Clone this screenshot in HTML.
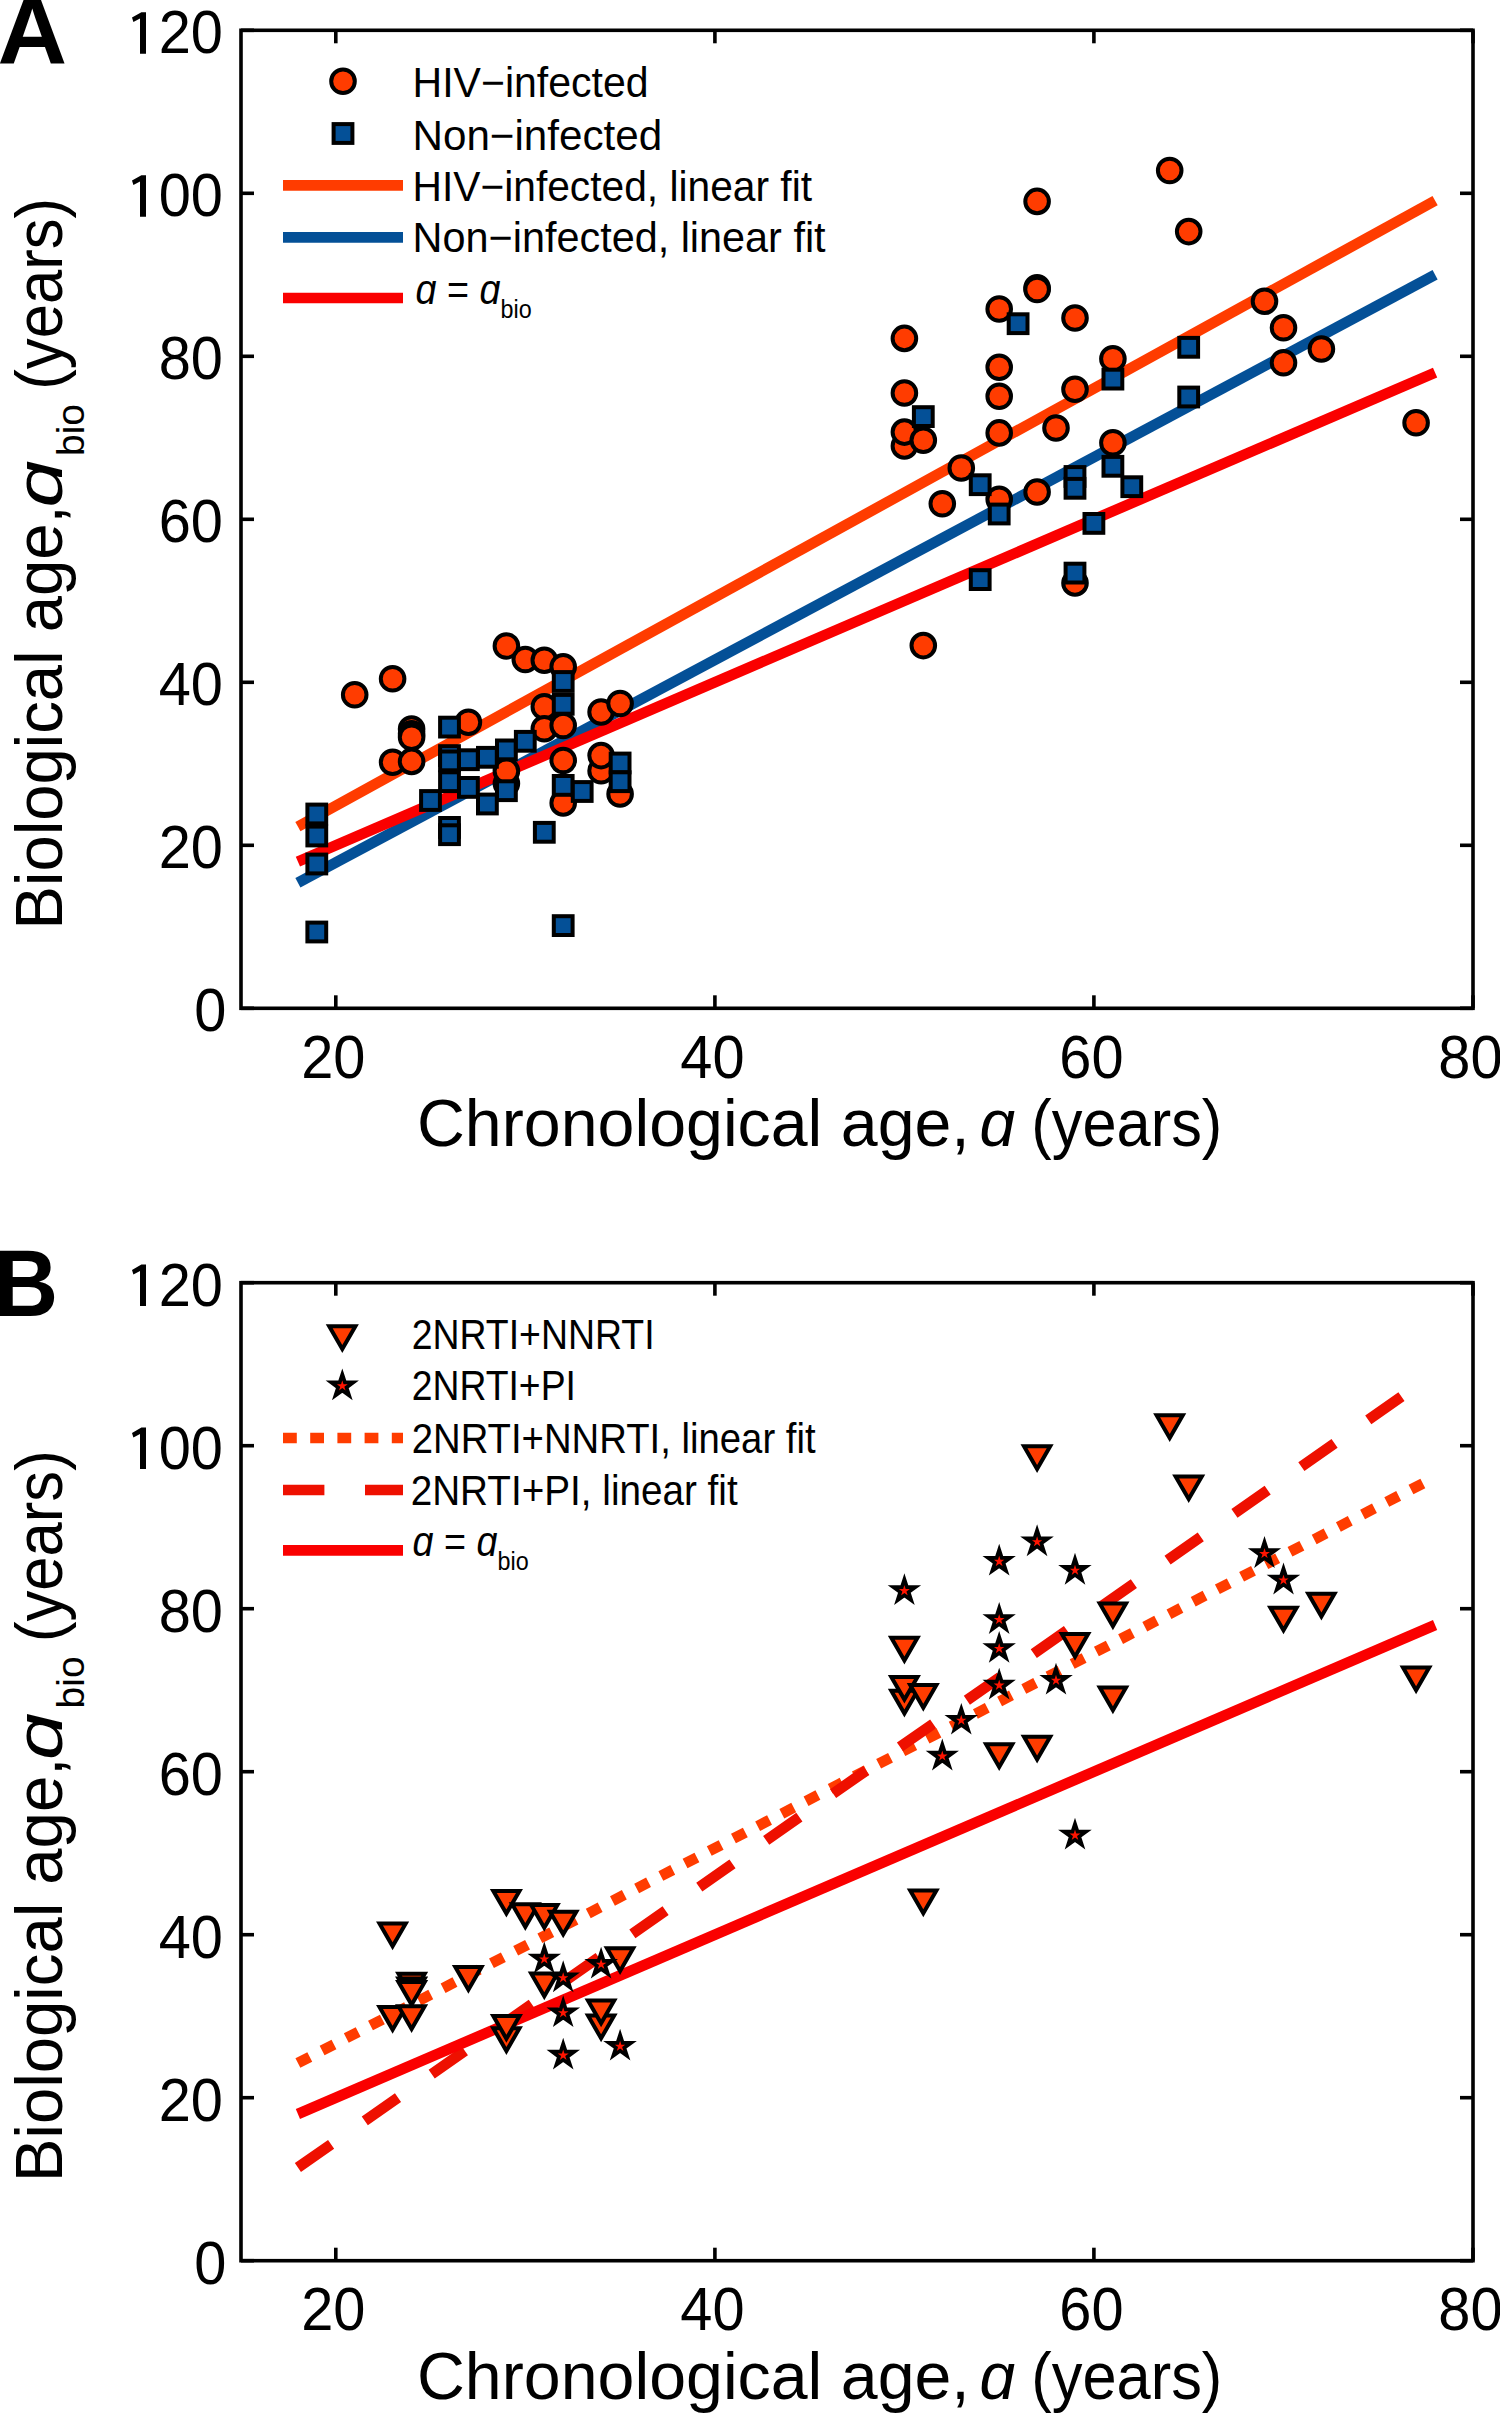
<!DOCTYPE html>
<html><head><meta charset="utf-8"><title>Biological age figure</title>
<style>html,body{margin:0;padding:0;background:#fff;width:1500px;height:2416px;overflow:hidden}svg{display:block}</style>
</head><body>
<svg width="1500" height="2416" viewBox="0 0 1500 2416"><rect x="0" y="0" width="1500" height="2416" fill="#fff"/>
<g font-family='"Liberation Sans", sans-serif' fill="#000">
<rect x="241" y="30.3" width="1232" height="978.0" fill="none" stroke="#000" stroke-width="3.6"/>
<line x1="335.8" y1="1008.3" x2="335.8" y2="995.3" stroke="#000" stroke-width="3.6"/>
<line x1="335.8" y1="30.3" x2="335.8" y2="43.3" stroke="#000" stroke-width="3.6"/>
<line x1="714.9" y1="1008.3" x2="714.9" y2="995.3" stroke="#000" stroke-width="3.6"/>
<line x1="714.9" y1="30.3" x2="714.9" y2="43.3" stroke="#000" stroke-width="3.6"/>
<line x1="1093.9" y1="1008.3" x2="1093.9" y2="995.3" stroke="#000" stroke-width="3.6"/>
<line x1="1093.9" y1="30.3" x2="1093.9" y2="43.3" stroke="#000" stroke-width="3.6"/>
<line x1="1473.0" y1="1008.3" x2="1473.0" y2="995.3" stroke="#000" stroke-width="3.6"/>
<line x1="1473.0" y1="30.3" x2="1473.0" y2="43.3" stroke="#000" stroke-width="3.6"/>
<line x1="241" y1="1008.3" x2="254" y2="1008.3" stroke="#000" stroke-width="3.6"/>
<line x1="1473" y1="1008.3" x2="1460" y2="1008.3" stroke="#000" stroke-width="3.6"/>
<line x1="241" y1="845.3" x2="254" y2="845.3" stroke="#000" stroke-width="3.6"/>
<line x1="1473" y1="845.3" x2="1460" y2="845.3" stroke="#000" stroke-width="3.6"/>
<line x1="241" y1="682.3" x2="254" y2="682.3" stroke="#000" stroke-width="3.6"/>
<line x1="1473" y1="682.3" x2="1460" y2="682.3" stroke="#000" stroke-width="3.6"/>
<line x1="241" y1="519.3" x2="254" y2="519.3" stroke="#000" stroke-width="3.6"/>
<line x1="1473" y1="519.3" x2="1460" y2="519.3" stroke="#000" stroke-width="3.6"/>
<line x1="241" y1="356.3" x2="254" y2="356.3" stroke="#000" stroke-width="3.6"/>
<line x1="1473" y1="356.3" x2="1460" y2="356.3" stroke="#000" stroke-width="3.6"/>
<line x1="241" y1="193.3" x2="254" y2="193.3" stroke="#000" stroke-width="3.6"/>
<line x1="1473" y1="193.3" x2="1460" y2="193.3" stroke="#000" stroke-width="3.6"/>
<line x1="241" y1="30.3" x2="254" y2="30.3" stroke="#000" stroke-width="3.6"/>
<line x1="1473" y1="30.3" x2="1460" y2="30.3" stroke="#000" stroke-width="3.6"/>
<text transform="translate(226.5,1031.3) scale(0.955,1)" font-size="60.5" text-anchor="end">0</text>
<text transform="translate(223,868.3) scale(0.955,1)" font-size="60.5" text-anchor="end">20</text>
<text transform="translate(223,705.3) scale(0.955,1)" font-size="60.5" text-anchor="end">40</text>
<text transform="translate(223,542.3) scale(0.955,1)" font-size="60.5" text-anchor="end">60</text>
<text transform="translate(223,379.3) scale(0.955,1)" font-size="60.5" text-anchor="end">80</text>
<text transform="translate(223,216.3) scale(0.955,1)" font-size="60.5" text-anchor="end">00</text>
<polygon points="132,180.5 141.4,175.2 146,175.2 146,216.7 140,216.7 140,181.5 133.4,185.0" fill="#000"/>
<text transform="translate(223,53.3) scale(0.955,1)" font-size="60.5" text-anchor="end">20</text>
<polygon points="132,17.5 141.4,12.2 146,12.2 146,53.7 140,53.7 140,18.5 133.4,22.0" fill="#000"/>
<text transform="translate(333.3,1078.0) scale(0.955,1)" font-size="60.5" text-anchor="middle">20</text>
<text transform="translate(712.4,1078.0) scale(0.955,1)" font-size="60.5" text-anchor="middle">40</text>
<text transform="translate(1091.4,1078.0) scale(0.955,1)" font-size="60.5" text-anchor="middle">60</text>
<text transform="translate(1470.5,1078.0) scale(0.955,1)" font-size="60.5" text-anchor="middle">80</text>
<text x="417.0" y="1146.4" font-size="67" textLength="552.8" lengthAdjust="spacingAndGlyphs">Chronological age,</text>
<text x="979.4" y="1146.4" font-size="67" textLength="35.7" lengthAdjust="spacingAndGlyphs"><tspan font-style="italic">ɑ</tspan></text>
<text x="1031.3" y="1146.4" font-size="67" textLength="191.0" lengthAdjust="spacingAndGlyphs">(years)</text>
<text transform="translate(62,929.6) rotate(-90)" x="0" y="0" font-size="67" textLength="424.3" lengthAdjust="spacingAndGlyphs">Biological age,</text>
<text transform="translate(62,507.5) rotate(-90)" x="0" y="0" font-size="67" textLength="47.1" lengthAdjust="spacingAndGlyphs"><tspan font-style="italic">ɑ</tspan></text>
<text transform="translate(84,456.0) rotate(-90)" x="0" y="0" font-size="39" textLength="52.0" lengthAdjust="spacingAndGlyphs">bio</text>
<text transform="translate(62,389.7) rotate(-90)" x="0" y="0" font-size="67" textLength="191.8" lengthAdjust="spacingAndGlyphs">(years)</text>
<line x1="297.9" y1="826.6" x2="1435.1" y2="200.6" stroke="#ff3c00" stroke-width="10.7" />
<line x1="297.9" y1="882.8" x2="1435.1" y2="274.8" stroke="#045097" stroke-width="10.7" />
<line x1="297.9" y1="861.6" x2="1435.1" y2="372.6" stroke="#fa0000" stroke-width="10.7" />
<circle cx="354.7" cy="694.7" r="11.8" fill="#ff3c00" stroke="#000" stroke-width="4"/>
<circle cx="392.6" cy="678.7" r="11.8" fill="#ff3c00" stroke="#000" stroke-width="4"/>
<circle cx="411.6" cy="729.0" r="11.8" fill="#ff3c00" stroke="#000" stroke-width="4"/>
<circle cx="411.6" cy="733.8" r="11.8" fill="#ff3c00" stroke="#000" stroke-width="4"/>
<circle cx="411.6" cy="737.3" r="11.8" fill="#ff3c00" stroke="#000" stroke-width="4"/>
<circle cx="392.6" cy="762.2" r="11.8" fill="#ff3c00" stroke="#000" stroke-width="4"/>
<circle cx="411.6" cy="761.4" r="11.8" fill="#ff3c00" stroke="#000" stroke-width="4"/>
<circle cx="468.4" cy="722.2" r="11.8" fill="#ff3c00" stroke="#000" stroke-width="4"/>
<circle cx="506.4" cy="646.0" r="11.8" fill="#ff3c00" stroke="#000" stroke-width="4"/>
<circle cx="525.3" cy="659.5" r="11.8" fill="#ff3c00" stroke="#000" stroke-width="4"/>
<circle cx="544.3" cy="660.3" r="11.8" fill="#ff3c00" stroke="#000" stroke-width="4"/>
<circle cx="563.2" cy="666.8" r="11.8" fill="#ff3c00" stroke="#000" stroke-width="4"/>
<circle cx="544.3" cy="706.8" r="11.8" fill="#ff3c00" stroke="#000" stroke-width="4"/>
<circle cx="544.3" cy="728.8" r="11.8" fill="#ff3c00" stroke="#000" stroke-width="4"/>
<circle cx="563.2" cy="725.5" r="11.8" fill="#ff3c00" stroke="#000" stroke-width="4"/>
<circle cx="601.1" cy="712.0" r="11.8" fill="#ff3c00" stroke="#000" stroke-width="4"/>
<circle cx="620.1" cy="703.5" r="11.8" fill="#ff3c00" stroke="#000" stroke-width="4"/>
<circle cx="506.4" cy="783.4" r="11.8" fill="#ff3c00" stroke="#000" stroke-width="4"/>
<circle cx="506.4" cy="771.1" r="11.8" fill="#ff3c00" stroke="#000" stroke-width="4"/>
<circle cx="563.2" cy="760.5" r="11.8" fill="#ff3c00" stroke="#000" stroke-width="4"/>
<circle cx="563.2" cy="802.9" r="11.8" fill="#ff3c00" stroke="#000" stroke-width="4"/>
<circle cx="601.1" cy="770.7" r="11.8" fill="#ff3c00" stroke="#000" stroke-width="4"/>
<circle cx="601.1" cy="755.6" r="11.8" fill="#ff3c00" stroke="#000" stroke-width="4"/>
<circle cx="620.1" cy="794.0" r="11.8" fill="#ff3c00" stroke="#000" stroke-width="4"/>
<circle cx="1037.1" cy="201.4" r="11.8" fill="#ff3c00" stroke="#000" stroke-width="4"/>
<circle cx="1037.1" cy="287.8" r="11.8" fill="#ff3c00" stroke="#000" stroke-width="4"/>
<circle cx="1037.1" cy="289.5" r="11.8" fill="#ff3c00" stroke="#000" stroke-width="4"/>
<circle cx="999.2" cy="309.0" r="11.8" fill="#ff3c00" stroke="#000" stroke-width="4"/>
<circle cx="904.4" cy="338.4" r="11.8" fill="#ff3c00" stroke="#000" stroke-width="4"/>
<circle cx="1169.7" cy="170.5" r="11.8" fill="#ff3c00" stroke="#000" stroke-width="4"/>
<circle cx="1188.7" cy="231.6" r="11.8" fill="#ff3c00" stroke="#000" stroke-width="4"/>
<circle cx="1075.0" cy="318.0" r="11.8" fill="#ff3c00" stroke="#000" stroke-width="4"/>
<circle cx="1264.5" cy="301.3" r="11.8" fill="#ff3c00" stroke="#000" stroke-width="4"/>
<circle cx="1283.5" cy="327.8" r="11.8" fill="#ff3c00" stroke="#000" stroke-width="4"/>
<circle cx="1283.5" cy="362.8" r="11.8" fill="#ff3c00" stroke="#000" stroke-width="4"/>
<circle cx="1321.4" cy="349.0" r="11.8" fill="#ff3c00" stroke="#000" stroke-width="4"/>
<circle cx="1416.1" cy="422.7" r="11.8" fill="#ff3c00" stroke="#000" stroke-width="4"/>
<circle cx="999.2" cy="367.3" r="11.8" fill="#ff3c00" stroke="#000" stroke-width="4"/>
<circle cx="999.2" cy="396.2" r="11.8" fill="#ff3c00" stroke="#000" stroke-width="4"/>
<circle cx="904.4" cy="393.0" r="11.8" fill="#ff3c00" stroke="#000" stroke-width="4"/>
<circle cx="904.4" cy="445.9" r="11.8" fill="#ff3c00" stroke="#000" stroke-width="4"/>
<circle cx="904.4" cy="432.1" r="11.8" fill="#ff3c00" stroke="#000" stroke-width="4"/>
<circle cx="923.3" cy="440.2" r="11.8" fill="#ff3c00" stroke="#000" stroke-width="4"/>
<circle cx="999.2" cy="432.9" r="11.8" fill="#ff3c00" stroke="#000" stroke-width="4"/>
<circle cx="1056.0" cy="428.0" r="11.8" fill="#ff3c00" stroke="#000" stroke-width="4"/>
<circle cx="1075.0" cy="389.3" r="11.8" fill="#ff3c00" stroke="#000" stroke-width="4"/>
<circle cx="961.3" cy="468.0" r="11.8" fill="#ff3c00" stroke="#000" stroke-width="4"/>
<circle cx="942.3" cy="503.8" r="11.8" fill="#ff3c00" stroke="#000" stroke-width="4"/>
<circle cx="999.2" cy="499.3" r="11.8" fill="#ff3c00" stroke="#000" stroke-width="4"/>
<circle cx="1037.1" cy="492.0" r="11.8" fill="#ff3c00" stroke="#000" stroke-width="4"/>
<circle cx="1112.9" cy="358.7" r="11.8" fill="#ff3c00" stroke="#000" stroke-width="4"/>
<circle cx="1112.9" cy="442.7" r="11.8" fill="#ff3c00" stroke="#000" stroke-width="4"/>
<circle cx="923.3" cy="645.6" r="11.8" fill="#ff3c00" stroke="#000" stroke-width="4"/>
<circle cx="1075.0" cy="582.9" r="11.8" fill="#ff3c00" stroke="#000" stroke-width="4"/>
<rect x="307.4" y="804.6" width="18.8" height="18.8" fill="#045097" stroke="#000" stroke-width="4"/>
<rect x="307.4" y="826.6" width="18.8" height="18.8" fill="#045097" stroke="#000" stroke-width="4"/>
<rect x="307.4" y="854.6" width="18.8" height="18.8" fill="#045097" stroke="#000" stroke-width="4"/>
<rect x="307.4" y="922.6" width="18.8" height="18.8" fill="#045097" stroke="#000" stroke-width="4"/>
<rect x="421.1" y="791.1" width="18.8" height="18.8" fill="#045097" stroke="#000" stroke-width="4"/>
<rect x="440.1" y="717.7" width="18.8" height="18.8" fill="#045097" stroke="#000" stroke-width="4"/>
<rect x="440.1" y="746.2" width="18.8" height="18.8" fill="#045097" stroke="#000" stroke-width="4"/>
<rect x="440.1" y="751.5" width="18.8" height="18.8" fill="#045097" stroke="#000" stroke-width="4"/>
<rect x="440.1" y="772.3" width="18.8" height="18.8" fill="#045097" stroke="#000" stroke-width="4"/>
<rect x="440.1" y="818.0" width="18.8" height="18.8" fill="#045097" stroke="#000" stroke-width="4"/>
<rect x="440.1" y="825.3" width="18.8" height="18.8" fill="#045097" stroke="#000" stroke-width="4"/>
<rect x="459.0" y="750.3" width="18.8" height="18.8" fill="#045097" stroke="#000" stroke-width="4"/>
<rect x="459.0" y="778.0" width="18.8" height="18.8" fill="#045097" stroke="#000" stroke-width="4"/>
<rect x="478.0" y="747.9" width="18.8" height="18.8" fill="#045097" stroke="#000" stroke-width="4"/>
<rect x="478.0" y="794.6" width="18.8" height="18.8" fill="#045097" stroke="#000" stroke-width="4"/>
<rect x="497.0" y="740.5" width="18.8" height="18.8" fill="#045097" stroke="#000" stroke-width="4"/>
<rect x="497.0" y="781.3" width="18.8" height="18.8" fill="#045097" stroke="#000" stroke-width="4"/>
<rect x="515.9" y="731.9" width="18.8" height="18.8" fill="#045097" stroke="#000" stroke-width="4"/>
<rect x="534.9" y="822.9" width="18.8" height="18.8" fill="#045097" stroke="#000" stroke-width="4"/>
<rect x="553.8" y="672.1" width="18.8" height="18.8" fill="#045097" stroke="#000" stroke-width="4"/>
<rect x="553.8" y="694.9" width="18.8" height="18.8" fill="#045097" stroke="#000" stroke-width="4"/>
<rect x="553.8" y="776.0" width="18.8" height="18.8" fill="#045097" stroke="#000" stroke-width="4"/>
<rect x="553.8" y="916.2" width="18.8" height="18.8" fill="#045097" stroke="#000" stroke-width="4"/>
<rect x="572.8" y="782.1" width="18.8" height="18.8" fill="#045097" stroke="#000" stroke-width="4"/>
<rect x="610.7" y="753.6" width="18.8" height="18.8" fill="#045097" stroke="#000" stroke-width="4"/>
<rect x="610.7" y="772.3" width="18.8" height="18.8" fill="#045097" stroke="#000" stroke-width="4"/>
<rect x="1008.7" y="314.3" width="18.8" height="18.8" fill="#045097" stroke="#000" stroke-width="4"/>
<rect x="913.9" y="407.2" width="18.8" height="18.8" fill="#045097" stroke="#000" stroke-width="4"/>
<rect x="970.8" y="475.3" width="18.8" height="18.8" fill="#045097" stroke="#000" stroke-width="4"/>
<rect x="989.8" y="504.6" width="18.8" height="18.8" fill="#045097" stroke="#000" stroke-width="4"/>
<rect x="970.8" y="570.2" width="18.8" height="18.8" fill="#045097" stroke="#000" stroke-width="4"/>
<rect x="1103.5" y="369.7" width="18.8" height="18.8" fill="#045097" stroke="#000" stroke-width="4"/>
<rect x="1179.3" y="337.9" width="18.8" height="18.8" fill="#045097" stroke="#000" stroke-width="4"/>
<rect x="1179.3" y="387.6" width="18.8" height="18.8" fill="#045097" stroke="#000" stroke-width="4"/>
<rect x="1103.5" y="456.9" width="18.8" height="18.8" fill="#045097" stroke="#000" stroke-width="4"/>
<rect x="1122.4" y="477.3" width="18.8" height="18.8" fill="#045097" stroke="#000" stroke-width="4"/>
<rect x="1065.6" y="467.1" width="18.8" height="18.8" fill="#045097" stroke="#000" stroke-width="4"/>
<rect x="1065.6" y="478.9" width="18.8" height="18.8" fill="#045097" stroke="#000" stroke-width="4"/>
<rect x="1084.5" y="514.0" width="18.8" height="18.8" fill="#045097" stroke="#000" stroke-width="4"/>
<rect x="1065.6" y="563.7" width="18.8" height="18.8" fill="#045097" stroke="#000" stroke-width="4"/>
<circle cx="343.0" cy="81.3" r="11.8" fill="#ff3c00" stroke="#000" stroke-width="4"/>
<rect x="333.6" y="124.1" width="18.8" height="18.8" fill="#045097" stroke="#000" stroke-width="4"/>
<line x1="283" y1="185.3" x2="403" y2="185.3" stroke="#ff3c00" stroke-width="10.7"/>
<line x1="283" y1="237.3" x2="403" y2="237.3" stroke="#045097" stroke-width="10.7"/>
<line x1="283" y1="298" x2="403" y2="298" stroke="#fa0000" stroke-width="10.7"/>
<text x="412.6" y="97.0" font-size="42" textLength="236.0" lengthAdjust="spacingAndGlyphs">HIV−infected</text>
<text x="412.5" y="149.5" font-size="42" textLength="249.7" lengthAdjust="spacingAndGlyphs">Non−infected</text>
<text x="412.6" y="200.5" font-size="42" textLength="399.4" lengthAdjust="spacingAndGlyphs">HIV−infected, linear fit</text>
<text x="412.6" y="252.0" font-size="42" textLength="413.0" lengthAdjust="spacingAndGlyphs">Non−infected, linear fit</text>
<text x="415.6" y="304.0" font-size="42" textLength="116.1" lengthAdjust="spacingAndGlyphs"><tspan font-style="italic">ɑ</tspan> = <tspan font-style="italic">ɑ</tspan><tspan font-size="26" dy="13.5">bio</tspan></text>
<text transform="translate(-2.6,63.7) scale(1.02,1)" font-size="94.5" font-weight="bold">A</text>
<rect x="241" y="1282.7" width="1232" height="977.9999999999998" fill="none" stroke="#000" stroke-width="3.6"/>
<line x1="335.8" y1="2260.7" x2="335.8" y2="2247.7" stroke="#000" stroke-width="3.6"/>
<line x1="335.8" y1="1282.7" x2="335.8" y2="1295.7" stroke="#000" stroke-width="3.6"/>
<line x1="714.9" y1="2260.7" x2="714.9" y2="2247.7" stroke="#000" stroke-width="3.6"/>
<line x1="714.9" y1="1282.7" x2="714.9" y2="1295.7" stroke="#000" stroke-width="3.6"/>
<line x1="1093.9" y1="2260.7" x2="1093.9" y2="2247.7" stroke="#000" stroke-width="3.6"/>
<line x1="1093.9" y1="1282.7" x2="1093.9" y2="1295.7" stroke="#000" stroke-width="3.6"/>
<line x1="1473.0" y1="2260.7" x2="1473.0" y2="2247.7" stroke="#000" stroke-width="3.6"/>
<line x1="1473.0" y1="1282.7" x2="1473.0" y2="1295.7" stroke="#000" stroke-width="3.6"/>
<line x1="241" y1="2260.7" x2="254" y2="2260.7" stroke="#000" stroke-width="3.6"/>
<line x1="1473" y1="2260.7" x2="1460" y2="2260.7" stroke="#000" stroke-width="3.6"/>
<line x1="241" y1="2097.7" x2="254" y2="2097.7" stroke="#000" stroke-width="3.6"/>
<line x1="1473" y1="2097.7" x2="1460" y2="2097.7" stroke="#000" stroke-width="3.6"/>
<line x1="241" y1="1934.7" x2="254" y2="1934.7" stroke="#000" stroke-width="3.6"/>
<line x1="1473" y1="1934.7" x2="1460" y2="1934.7" stroke="#000" stroke-width="3.6"/>
<line x1="241" y1="1771.7" x2="254" y2="1771.7" stroke="#000" stroke-width="3.6"/>
<line x1="1473" y1="1771.7" x2="1460" y2="1771.7" stroke="#000" stroke-width="3.6"/>
<line x1="241" y1="1608.7" x2="254" y2="1608.7" stroke="#000" stroke-width="3.6"/>
<line x1="1473" y1="1608.7" x2="1460" y2="1608.7" stroke="#000" stroke-width="3.6"/>
<line x1="241" y1="1445.7" x2="254" y2="1445.7" stroke="#000" stroke-width="3.6"/>
<line x1="1473" y1="1445.7" x2="1460" y2="1445.7" stroke="#000" stroke-width="3.6"/>
<line x1="241" y1="1282.7" x2="254" y2="1282.7" stroke="#000" stroke-width="3.6"/>
<line x1="1473" y1="1282.7" x2="1460" y2="1282.7" stroke="#000" stroke-width="3.6"/>
<text transform="translate(226.5,2283.7) scale(0.955,1)" font-size="60.5" text-anchor="end">0</text>
<text transform="translate(223,2120.7) scale(0.955,1)" font-size="60.5" text-anchor="end">20</text>
<text transform="translate(223,1957.7) scale(0.955,1)" font-size="60.5" text-anchor="end">40</text>
<text transform="translate(223,1794.7) scale(0.955,1)" font-size="60.5" text-anchor="end">60</text>
<text transform="translate(223,1631.7) scale(0.955,1)" font-size="60.5" text-anchor="end">80</text>
<text transform="translate(223,1468.7) scale(0.955,1)" font-size="60.5" text-anchor="end">00</text>
<polygon points="132,1432.9 141.4,1427.6 146,1427.6 146,1469.1 140,1469.1 140,1433.9 133.4,1437.4" fill="#000"/>
<text transform="translate(223,1305.7) scale(0.955,1)" font-size="60.5" text-anchor="end">20</text>
<polygon points="132,1269.9 141.4,1264.6 146,1264.6 146,1306.1 140,1306.1 140,1270.9 133.4,1274.4" fill="#000"/>
<text transform="translate(333.3,2330.4) scale(0.955,1)" font-size="60.5" text-anchor="middle">20</text>
<text transform="translate(712.4,2330.4) scale(0.955,1)" font-size="60.5" text-anchor="middle">40</text>
<text transform="translate(1091.4,2330.4) scale(0.955,1)" font-size="60.5" text-anchor="middle">60</text>
<text transform="translate(1470.5,2330.4) scale(0.955,1)" font-size="60.5" text-anchor="middle">80</text>
<text x="417.0" y="2398.8" font-size="67" textLength="552.8" lengthAdjust="spacingAndGlyphs">Chronological age,</text>
<text x="979.4" y="2398.8" font-size="67" textLength="35.7" lengthAdjust="spacingAndGlyphs"><tspan font-style="italic">ɑ</tspan></text>
<text x="1031.3" y="2398.8" font-size="67" textLength="191.0" lengthAdjust="spacingAndGlyphs">(years)</text>
<text transform="translate(62,2182.0) rotate(-90)" x="0" y="0" font-size="67" textLength="424.3" lengthAdjust="spacingAndGlyphs">Biological age,</text>
<text transform="translate(62,1759.9) rotate(-90)" x="0" y="0" font-size="67" textLength="47.1" lengthAdjust="spacingAndGlyphs"><tspan font-style="italic">ɑ</tspan></text>
<text transform="translate(84,1708.4) rotate(-90)" x="0" y="0" font-size="39" textLength="52.0" lengthAdjust="spacingAndGlyphs">bio</text>
<text transform="translate(62,1642.1) rotate(-90)" x="0" y="0" font-size="67" textLength="191.8" lengthAdjust="spacingAndGlyphs">(years)</text>
<line x1="297.9" y1="2063.0" x2="1435.1" y2="1477.1" stroke="#ff3c00" stroke-width="10.7" stroke-dasharray="13.36 13.86"/>
<line x1="297.9" y1="2167.5" x2="1435.1" y2="1373.2" stroke="#ee1000" stroke-width="10.7" stroke-dasharray="40.5 41.1"/>
<line x1="297.9" y1="2114.0" x2="1435.1" y2="1625.0" stroke="#fa0000" stroke-width="10.7" />
<polygon points="379.5,1923.6 405.7,1923.6 392.6,1946.2" fill="#ff3c00" stroke="#000" stroke-width="4" stroke-linejoin="miter"/>
<polygon points="398.5,1973.8 424.7,1973.8 411.6,1996.5" fill="#ff3c00" stroke="#000" stroke-width="4" stroke-linejoin="miter"/>
<polygon points="398.5,1978.6 424.7,1978.6 411.6,2001.3" fill="#ff3c00" stroke="#000" stroke-width="4" stroke-linejoin="miter"/>
<polygon points="398.5,1982.1 424.7,1982.1 411.6,2004.8" fill="#ff3c00" stroke="#000" stroke-width="4" stroke-linejoin="miter"/>
<polygon points="379.5,2007.0 405.7,2007.0 392.6,2029.7" fill="#ff3c00" stroke="#000" stroke-width="4" stroke-linejoin="miter"/>
<polygon points="398.5,2006.2 424.7,2006.2 411.6,2028.9" fill="#ff3c00" stroke="#000" stroke-width="4" stroke-linejoin="miter"/>
<polygon points="455.3,1967.1 481.5,1967.1 468.4,1989.8" fill="#ff3c00" stroke="#000" stroke-width="4" stroke-linejoin="miter"/>
<polygon points="493.3,1890.9 519.5,1890.9 506.4,1913.6" fill="#ff3c00" stroke="#000" stroke-width="4" stroke-linejoin="miter"/>
<polygon points="512.2,1904.3 538.4,1904.3 525.3,1927.0" fill="#ff3c00" stroke="#000" stroke-width="4" stroke-linejoin="miter"/>
<polygon points="531.2,1905.1 557.4,1905.1 544.3,1927.8" fill="#ff3c00" stroke="#000" stroke-width="4" stroke-linejoin="miter"/>
<polygon points="550.1,1911.7 576.3,1911.7 563.2,1934.3" fill="#ff3c00" stroke="#000" stroke-width="4" stroke-linejoin="miter"/>
<polygon points="531.2,1973.6 557.4,1973.6 544.3,1996.3" fill="#ff3c00" stroke="#000" stroke-width="4" stroke-linejoin="miter"/>
<polygon points="607.0,1948.3 633.2,1948.3 620.1,1971.0" fill="#ff3c00" stroke="#000" stroke-width="4" stroke-linejoin="miter"/>
<polygon points="493.3,2028.2 519.5,2028.2 506.4,2050.9" fill="#ff3c00" stroke="#000" stroke-width="4" stroke-linejoin="miter"/>
<polygon points="493.3,2016.0 519.5,2016.0 506.4,2038.7" fill="#ff3c00" stroke="#000" stroke-width="4" stroke-linejoin="miter"/>
<polygon points="588.0,2015.6 614.2,2015.6 601.1,2038.3" fill="#ff3c00" stroke="#000" stroke-width="4" stroke-linejoin="miter"/>
<polygon points="588.0,2000.5 614.2,2000.5 601.1,2023.2" fill="#ff3c00" stroke="#000" stroke-width="4" stroke-linejoin="miter"/>
<polygon points="1024.0,1446.3 1050.2,1446.3 1037.1,1469.0" fill="#ff3c00" stroke="#000" stroke-width="4" stroke-linejoin="miter"/>
<polygon points="1156.6,1415.3 1182.8,1415.3 1169.7,1438.0" fill="#ff3c00" stroke="#000" stroke-width="4" stroke-linejoin="miter"/>
<polygon points="1175.6,1476.4 1201.8,1476.4 1188.7,1499.1" fill="#ff3c00" stroke="#000" stroke-width="4" stroke-linejoin="miter"/>
<polygon points="1270.4,1607.7 1296.6,1607.7 1283.5,1630.3" fill="#ff3c00" stroke="#000" stroke-width="4" stroke-linejoin="miter"/>
<polygon points="1308.3,1593.8 1334.5,1593.8 1321.4,1616.5" fill="#ff3c00" stroke="#000" stroke-width="4" stroke-linejoin="miter"/>
<polygon points="1403.0,1667.6 1429.2,1667.6 1416.1,1690.2" fill="#ff3c00" stroke="#000" stroke-width="4" stroke-linejoin="miter"/>
<polygon points="891.3,1637.8 917.5,1637.8 904.4,1660.5" fill="#ff3c00" stroke="#000" stroke-width="4" stroke-linejoin="miter"/>
<polygon points="891.3,1690.8 917.5,1690.8 904.4,1713.5" fill="#ff3c00" stroke="#000" stroke-width="4" stroke-linejoin="miter"/>
<polygon points="891.3,1676.9 917.5,1676.9 904.4,1699.6" fill="#ff3c00" stroke="#000" stroke-width="4" stroke-linejoin="miter"/>
<polygon points="910.2,1685.1 936.4,1685.1 923.3,1707.8" fill="#ff3c00" stroke="#000" stroke-width="4" stroke-linejoin="miter"/>
<polygon points="1061.9,1634.1 1088.1,1634.1 1075.0,1656.8" fill="#ff3c00" stroke="#000" stroke-width="4" stroke-linejoin="miter"/>
<polygon points="986.1,1744.2 1012.3,1744.2 999.2,1766.9" fill="#ff3c00" stroke="#000" stroke-width="4" stroke-linejoin="miter"/>
<polygon points="1024.0,1736.8 1050.2,1736.8 1037.1,1759.5" fill="#ff3c00" stroke="#000" stroke-width="4" stroke-linejoin="miter"/>
<polygon points="1099.8,1603.6 1126.0,1603.6 1112.9,1626.3" fill="#ff3c00" stroke="#000" stroke-width="4" stroke-linejoin="miter"/>
<polygon points="1099.8,1687.5 1126.0,1687.5 1112.9,1710.2" fill="#ff3c00" stroke="#000" stroke-width="4" stroke-linejoin="miter"/>
<polygon points="910.2,1890.5 936.4,1890.5 923.3,1913.2" fill="#ff3c00" stroke="#000" stroke-width="4" stroke-linejoin="miter"/>
<polygon points="544.3,1947.5 546.9,1955.6 555.3,1955.6 548.5,1960.5 551.1,1968.5 544.3,1963.6 537.4,1968.5 540.0,1960.5 533.2,1955.6 541.7,1955.6" fill="#ff1400" stroke="#000" stroke-width="3.7" stroke-linejoin="miter" stroke-miterlimit="10"/>
<polygon points="563.2,1966.3 565.8,1974.3 574.3,1974.3 567.4,1979.3 570.0,1987.3 563.2,1982.3 556.4,1987.3 559.0,1979.3 552.2,1974.3 560.6,1974.3" fill="#ff1400" stroke="#000" stroke-width="3.7" stroke-linejoin="miter" stroke-miterlimit="10"/>
<polygon points="601.1,1952.8 603.7,1960.9 612.2,1960.9 605.3,1965.8 607.9,1973.8 601.1,1968.9 594.3,1973.8 596.9,1965.8 590.1,1960.9 598.5,1960.9" fill="#ff1400" stroke="#000" stroke-width="3.7" stroke-linejoin="miter" stroke-miterlimit="10"/>
<polygon points="563.2,2001.3 565.8,2009.4 574.3,2009.4 567.4,2014.3 570.0,2022.3 563.2,2017.4 556.4,2022.3 559.0,2014.3 552.2,2009.4 560.6,2009.4" fill="#ff1400" stroke="#000" stroke-width="3.7" stroke-linejoin="miter" stroke-miterlimit="10"/>
<polygon points="563.2,2043.7 565.8,2051.7 574.3,2051.7 567.4,2056.7 570.0,2064.7 563.2,2059.8 556.4,2064.7 559.0,2056.7 552.2,2051.7 560.6,2051.7" fill="#ff1400" stroke="#000" stroke-width="3.7" stroke-linejoin="miter" stroke-miterlimit="10"/>
<polygon points="620.1,2034.8 622.7,2042.8 631.1,2042.8 624.3,2047.7 626.9,2055.7 620.1,2050.8 613.3,2055.7 615.9,2047.7 609.0,2042.8 617.5,2042.8" fill="#ff1400" stroke="#000" stroke-width="3.7" stroke-linejoin="miter" stroke-miterlimit="10"/>
<polygon points="1037.1,1530.3 1039.7,1538.3 1048.1,1538.3 1041.3,1543.2 1043.9,1551.3 1037.1,1546.3 1030.2,1551.3 1032.9,1543.2 1026.0,1538.3 1034.5,1538.3" fill="#ff1400" stroke="#000" stroke-width="3.7" stroke-linejoin="miter" stroke-miterlimit="10"/>
<polygon points="999.2,1549.8 1001.8,1557.8 1010.2,1557.8 1003.4,1562.8 1006.0,1570.8 999.2,1565.9 992.3,1570.8 994.9,1562.8 988.1,1557.8 996.6,1557.8" fill="#ff1400" stroke="#000" stroke-width="3.7" stroke-linejoin="miter" stroke-miterlimit="10"/>
<polygon points="904.4,1579.2 907.0,1587.2 915.4,1587.2 908.6,1592.1 911.2,1600.2 904.4,1595.2 897.6,1600.2 900.2,1592.1 893.4,1587.2 901.8,1587.2" fill="#ff1400" stroke="#000" stroke-width="3.7" stroke-linejoin="miter" stroke-miterlimit="10"/>
<polygon points="1075.0,1558.8 1077.6,1566.8 1086.0,1566.8 1079.2,1571.8 1081.8,1579.8 1075.0,1574.8 1068.2,1579.8 1070.8,1571.8 1063.9,1566.8 1072.4,1566.8" fill="#ff1400" stroke="#000" stroke-width="3.7" stroke-linejoin="miter" stroke-miterlimit="10"/>
<polygon points="1264.5,1542.1 1267.1,1550.1 1275.5,1550.1 1268.7,1555.1 1271.3,1563.1 1264.5,1558.1 1257.7,1563.1 1260.3,1555.1 1253.5,1550.1 1261.9,1550.1" fill="#ff1400" stroke="#000" stroke-width="3.7" stroke-linejoin="miter" stroke-miterlimit="10"/>
<polygon points="1283.5,1568.6 1286.1,1576.6 1294.5,1576.6 1287.7,1581.5 1290.3,1589.6 1283.5,1584.6 1276.7,1589.6 1279.3,1581.5 1272.4,1576.6 1280.9,1576.6" fill="#ff1400" stroke="#000" stroke-width="3.7" stroke-linejoin="miter" stroke-miterlimit="10"/>
<polygon points="999.2,1608.1 1001.8,1616.1 1010.2,1616.1 1003.4,1621.1 1006.0,1629.1 999.2,1624.1 992.3,1629.1 994.9,1621.1 988.1,1616.1 996.6,1616.1" fill="#ff1400" stroke="#000" stroke-width="3.7" stroke-linejoin="miter" stroke-miterlimit="10"/>
<polygon points="999.2,1637.0 1001.8,1645.1 1010.2,1645.1 1003.4,1650.0 1006.0,1658.0 999.2,1653.1 992.3,1658.0 994.9,1650.0 988.1,1645.1 996.6,1645.1" fill="#ff1400" stroke="#000" stroke-width="3.7" stroke-linejoin="miter" stroke-miterlimit="10"/>
<polygon points="999.2,1673.7 1001.8,1681.7 1010.2,1681.7 1003.4,1686.7 1006.0,1694.7 999.2,1689.7 992.3,1694.7 994.9,1686.7 988.1,1681.7 996.6,1681.7" fill="#ff1400" stroke="#000" stroke-width="3.7" stroke-linejoin="miter" stroke-miterlimit="10"/>
<polygon points="1056.0,1668.8 1058.6,1676.8 1067.1,1676.8 1060.2,1681.8 1062.8,1689.8 1056.0,1684.9 1049.2,1689.8 1051.8,1681.8 1045.0,1676.8 1053.4,1676.8" fill="#ff1400" stroke="#000" stroke-width="3.7" stroke-linejoin="miter" stroke-miterlimit="10"/>
<polygon points="961.3,1708.8 963.9,1716.8 972.3,1716.8 965.5,1721.7 968.1,1729.7 961.3,1724.8 954.4,1729.7 957.0,1721.7 950.2,1716.8 958.6,1716.8" fill="#ff1400" stroke="#000" stroke-width="3.7" stroke-linejoin="miter" stroke-miterlimit="10"/>
<polygon points="942.3,1744.6 944.9,1752.6 953.3,1752.6 946.5,1757.6 949.1,1765.6 942.3,1760.6 935.5,1765.6 938.1,1757.6 931.3,1752.6 939.7,1752.6" fill="#ff1400" stroke="#000" stroke-width="3.7" stroke-linejoin="miter" stroke-miterlimit="10"/>
<polygon points="1075.0,1823.7 1077.6,1831.7 1086.0,1831.7 1079.2,1836.6 1081.8,1844.7 1075.0,1839.7 1068.2,1844.7 1070.8,1836.6 1063.9,1831.7 1072.4,1831.7" fill="#ff1400" stroke="#000" stroke-width="3.7" stroke-linejoin="miter" stroke-miterlimit="10"/>
<polygon points="329.2,1326.2 355.4,1326.2 342.3,1348.9" fill="#ff3c00" stroke="#000" stroke-width="4" stroke-linejoin="miter"/>
<polygon points="342.3,1374.4 344.9,1382.4 353.3,1382.4 346.5,1387.4 349.1,1395.4 342.3,1390.4 335.5,1395.4 338.1,1387.4 331.3,1382.4 339.7,1382.4" fill="#ff1400" stroke="#000" stroke-width="3.7" stroke-linejoin="miter" stroke-miterlimit="10"/>
<line x1="283" y1="1438" x2="403" y2="1438" stroke="#ff3c00" stroke-width="10.7" stroke-dasharray="13.8 13.4"/>
<line x1="283" y1="1490" x2="403" y2="1490" stroke="#ee1000" stroke-width="10.7" stroke-dasharray="41.4 40.6"/>
<line x1="283" y1="1550.4" x2="403" y2="1550.4" stroke="#fa0000" stroke-width="10.7"/>
<text x="411.7" y="1349.0" font-size="42" textLength="242.9" lengthAdjust="spacingAndGlyphs">2NRTI+NNRTI</text>
<text x="411.7" y="1400.0" font-size="42" textLength="164.2" lengthAdjust="spacingAndGlyphs">2NRTI+PI</text>
<text x="411.7" y="1452.5" font-size="42" textLength="403.9" lengthAdjust="spacingAndGlyphs">2NRTI+NNRTI, linear fit</text>
<text x="410.7" y="1505.0" font-size="42" textLength="327.0" lengthAdjust="spacingAndGlyphs">2NRTI+PI, linear fit</text>
<text x="412.6" y="1556.0" font-size="42" textLength="116.1" lengthAdjust="spacingAndGlyphs"><tspan font-style="italic">ɑ</tspan> = <tspan font-style="italic">ɑ</tspan><tspan font-size="26" dy="13.5">bio</tspan></text>
<text transform="translate(-6,1316.3) scale(0.94,1)" font-size="94.5" font-weight="bold">B</text>
</g></svg>
</body></html>
